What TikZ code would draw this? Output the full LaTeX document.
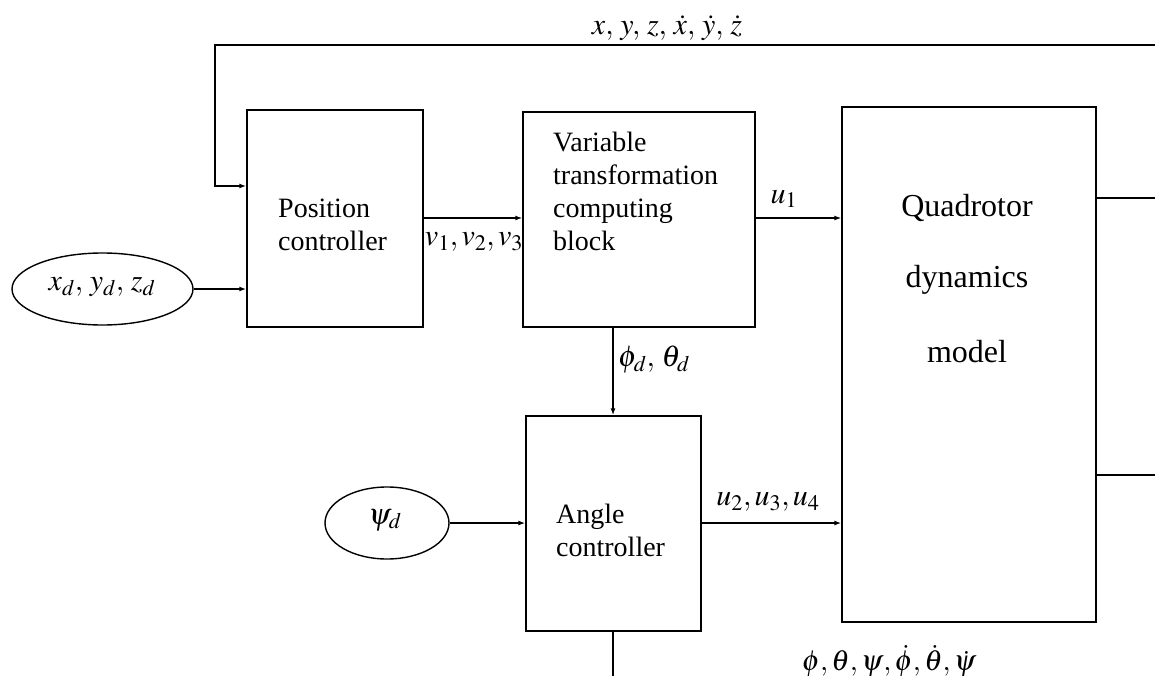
\documentclass[tikz,border=0pt]{standalone}
\usepackage{mathptmx}
\usepackage{fontspec}
\setmainfont{Liberation Serif}
\usetikzlibrary{arrows.meta,shapes.geometric}
\begin{document}
\begin{tikzpicture}[x=1pt,y=-1pt,
  box/.style={draw,line width=1.4pt,inner sep=0pt},
  oval/.style={draw,ellipse,line width=1.4pt,inner sep=0pt},
  wire/.style={line width=1.4pt},
  arr/.style={wire,-{Latex[length=7pt,width=5pt]}},
  txt/.style={font=\fontsize{28}{33}\selectfont,inner sep=0pt},
  big/.style={font=\fontsize{32}{36}\selectfont,inner sep=0pt},
  lbl/.style={font=\fontsize{30}{34}\selectfont,inner sep=0pt}]
\useasboundingbox (0,0) rectangle (1155,676);
% blocks
\node[box,minimum width=176pt,minimum height=217pt] (pc) at (335,218.5) {};
\node[box,minimum width=232pt,minimum height=215pt] (vt) at (639,219.5) {};
\node[box,minimum width=254pt,minimum height=515pt] (qd) at (969,364.5) {};
\node[box,minimum width=175pt,minimum height=215pt] (ac) at (613.5,523.5) {};
\node[oval,minimum width=181pt,minimum height=72pt] (e1) at (102.5,289) {};
\node[oval,minimum width=124pt,minimum height=72pt] (e2) at (387,523) {};
% texts in blocks
\node[txt,anchor=west,align=left] (pct) at (278,225) {Position\\controller};
\node[txt,anchor=west,align=left] (vtt) at (553,191.5) {Variable\\transformation\\computing\\block};
\node[big] (q1) at (967,208) {Quadrotor};
\node[big] (q2) at (967,280) {dynamics};
\node[big] (q3) at (967,352) {model};
\node[txt,anchor=west,align=left] (act) at (556,530) {Angle\\controller};
\node[lbl] (e1t) at (102,287) {$x_d,\,y_d,\,z_d$};
\node[lbl] (e2t) at (385,520) {$\psi_d$};
% coordinates
\coordinate (fbR) at (1155,45);
\coordinate (fbL) at (215,45);
\coordinate (o1) at (1155,198);
\coordinate (o2) at (1155,475);
\coordinate (bot) at (613,676);
% connectors
\draw[arr] (fbR) -- (fbL) -- (215,186) -- (pc.west |- 0,186);
\draw[arr] (e1.east) -- (pc.west |- e1.east);
\draw[arr] (pc.east |- 0,218) -- (vt.west |- 0,218);
\draw[arr] (vt.east |- 0,218) -- (qd.west |- 0,218);
\draw[arr] (vt.south -| 613,0) -- (ac.north -| 613,0);
\draw[arr] (e2.east) -- (ac.west |- e2.east);
\draw[arr] (ac.east |- 0,523) -- (qd.west |- 0,523);
\draw[wire] (qd.east |- o1) -- (o1);
\draw[wire] (qd.east |- o2) -- (o2);
\draw[wire] (ac.south -| bot) -- (bot);
% labels
\node[lbl] (l1) at (667,28) {$x,\,y,\,z,\,\dot x,\,\dot y,\,\dot z$};
\node[lbl] (l2) at (474,242) {$v_1,v_2,v_3$};
\node[lbl] (l3) at (784,199) {$u_1$};
\node[lbl,anchor=west] (l4) at (618,360) {$\phi_d,\,\theta_d$};
\node[lbl] (l5) at (768,502) {$u_2,u_3,u_4$};
\node[lbl,font=\fontsize{29}{34}\selectfont] (l6) at (889,661) {$\phi,\theta,\psi,\dot\phi,\dot\theta,\dot\psi$};
\end{tikzpicture}
\end{document}
